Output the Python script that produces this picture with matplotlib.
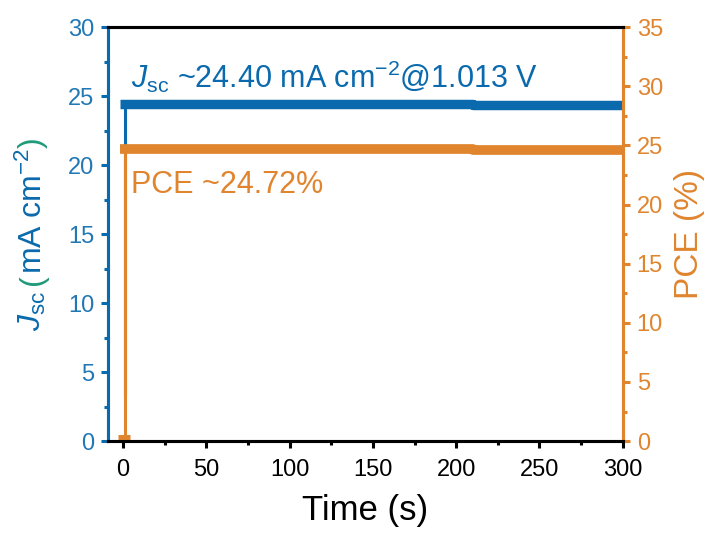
import matplotlib.pyplot as plt
from matplotlib.ticker import MultipleLocator

plt.rcParams['font.family'] = ['Liberation Sans', 'DejaVu Sans']
plt.rcParams['mathtext.fontset'] = 'custom'
plt.rcParams['mathtext.rm'] = 'Liberation Sans'
plt.rcParams['mathtext.it'] = 'Liberation Sans:italic'

blue = '#0a6aad'
tick_blue = '#2278b4'
orange = '#e0852e'
green = '#1f9a78'

# steady-state tracking data
jsc_time = [-1.8, 210, 210, 300]
jsc_vals = [24.45, 24.45, 24.35, 24.35]
jsc_rise_t = [1.0, 1.0]
jsc_rise = [3.5, 24.4]

pce_time = [-1.8, 210, 210, 300]
pce_vals = [24.72, 24.72, 24.64, 24.64]
pce_rise_t = [1.5, 1.5]
pce_rise = [0.3, 24.7]
pce_start_t = [-3, 4]
pce_start = [0.25, 0.25]

fig = plt.figure(figsize=(7.15, 5.34), dpi=100)
ax = fig.add_axes([0.151, 0.174, 0.72, 0.775])
ax2 = ax.twinx()

ax.plot(jsc_rise_t, jsc_rise, color=blue, lw=2.2)
ax.plot(jsc_time, jsc_vals, color=blue, lw=6.8, solid_capstyle='butt')
ax2.plot(pce_rise_t, pce_rise, color=orange, lw=2.2)
ax2.plot(pce_time, pce_vals, color=orange, lw=7, solid_capstyle='butt')
ax2.plot(pce_start_t, pce_start, color=orange, lw=5, solid_capstyle='butt')

ax.set_xlim(-9, 300)
ax.set_ylim(0, 30)
ax2.set_ylim(0, 35)
ax.xaxis.set_major_locator(MultipleLocator(50))
ax.xaxis.set_minor_locator(MultipleLocator(25))
ax.yaxis.set_major_locator(MultipleLocator(5))
ax.yaxis.set_minor_locator(MultipleLocator(2.5))
ax2.yaxis.set_major_locator(MultipleLocator(5))
ax2.yaxis.set_minor_locator(MultipleLocator(2.5))

for a in (ax, ax2):
    for s in a.spines.values():
        s.set_linewidth(2.2)
    a.spines['left'].set_color(blue)
    a.spines['right'].set_color(orange)

ax.tick_params(axis='x', which='major', length=5, width=2.2, labelsize=17, pad=8)
ax.tick_params(axis='x', which='minor', length=3, width=2.2)
ax.tick_params(axis='y', which='major', length=5, width=2.2, color=blue,
               labelcolor=tick_blue, labelsize=17, pad=5)
ax.tick_params(axis='y', which='minor', length=3, width=2.2, color=blue)
ax2.tick_params(axis='y', which='major', length=5, width=2.2, color=orange,
                labelcolor=orange, labelsize=17, pad=5)
ax2.tick_params(axis='y', which='minor', length=3, width=2.2, color=orange)

ax.set_xlabel('Time (s)', fontsize=25, labelpad=9)
ax2.set_ylabel('PCE (%)', fontsize=24, color=orange, labelpad=8)

# left label with green parentheses, built from pieces
fig.canvas.draw()
r = fig.canvas.get_renderer()
pieces = [(r'$J_{\rm sc}$', blue, 0.012), ('(', green, 0.0),
          ('mA cm$^{-2}$', blue, 0.0), (')', green, 0.0)]
y = 0.38
for txt, c, gap in pieces:
    t = fig.text(0.046, y, txt, rotation=90, fontsize=23, color=c,
                 ha='center', va='bottom')
    bb = t.get_window_extent(r)
    y += bb.height / fig.bbox.height + gap

ax.text(5, 25.6, r'$J_{\rm sc}$ ~24.40 mA cm$^{-2}$@1.013 V', color=blue, fontsize=22)
ax.text(5, 18.0, 'PCE ~24.72%', color=orange, fontsize=22)

fig.savefig('out.png', dpi=100)
